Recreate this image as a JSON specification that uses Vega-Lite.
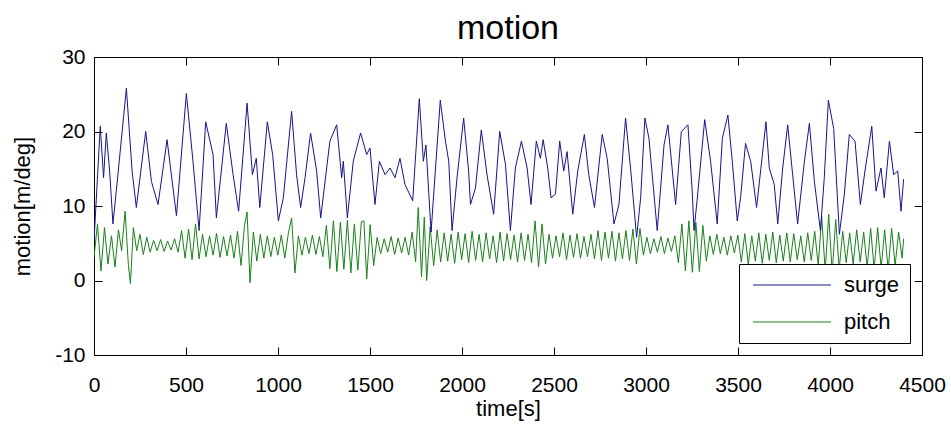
{
  "$schema": "https://vega.github.io/schema/vega-lite/v6.json",
  "width": 828,
  "height": 298,
  "autosize": {"type": "none"},
  "padding": {"left": 94, "top": 57, "right": 29, "bottom": 69},
  "background": "white",
  "title": {"text": "motion", "font": "Liberation Sans", "fontSize": 34, "fontWeight": "normal", "color": "black", "anchor": "middle", "offset": 0},
  "config": {
    "locale": {
      "number": {"decimal": ".", "thousands": "", "grouping": [3], "currency": ["", ""], "minus": "-"}
    },
    "view": {"stroke": "black", "strokeWidth": 1},
    "axis": {
      "grid": false,
      "domainColor": "black",
      "domainWidth": 1,
      "tickColor": "black",
      "tickWidth": 1,
      "tickSize": -8,
      "labelColor": "black",
      "labelFont": "Liberation Sans",
      "labelFontSize": 21,
      "labelFlush": false,
      "labelOverlap": false,
      "titleColor": "black",
      "titleFont": "Liberation Sans",
      "titleFontSize": 22,
      "titleFontWeight": "normal"
    },
    "legend": {
      "orient": "bottom-right",
      "offset": 12,
      "padding": 10,
      "strokeColor": "black",
      "fillColor": "white",
      "symbolType": "M-3.9,0H3.9",
      "symbolSize": 400,
      "symbolStrokeWidth": 1,
      "symbolOffset": 32,
      "labelFont": "Liberation Sans",
      "labelFontSize": 22,
      "labelColor": "black",
      "labelOffset": 41,
      "rowPadding": 15
    }
  },
  "datasets": {
    "surge": [
      {"t":0,"v":5.3},{"t":34,"v":20.7},{"t":52,"v":13.8},{"t":67,"v":19.8},{"t":85,"v":14.7},{"t":103,"v":7.6},
      {"t":130,"v":14.2},{"t":176,"v":25.8},{"t":207,"v":14.7},{"t":230,"v":9.8},{"t":281,"v":20.0},{"t":312,"v":13.3},
      {"t":348,"v":10.2},{"t":397,"v":18.9},{"t":448,"v":8.7},{"t":502,"v":25.1},{"t":538,"v":16.0},{"t":571,"v":6.7},
      {"t":607,"v":21.3},{"t":647,"v":16.9},{"t":665,"v":8.4},{"t":719,"v":21.1},{"t":756,"v":14.2},{"t":786,"v":9.3},
      {"t":832,"v":23.8},{"t":861,"v":14.2},{"t":882,"v":16.4},{"t":901,"v":9.8},{"t":942,"v":21.3},{"t":971,"v":16.9},
      {"t":1002,"v":8.0},{"t":1029,"v":11.1},{"t":1074,"v":22.7},{"t":1101,"v":14.2},{"t":1123,"v":9.8},{"t":1147,"v":13.8},
      {"t":1177,"v":19.8},{"t":1210,"v":14.7},{"t":1232,"v":8.4},{"t":1282,"v":18.7},{"t":1319,"v":20.9},{"t":1346,"v":13.8},
      {"t":1355,"v":16.0},{"t":1377,"v":8.4},{"t":1409,"v":16.0},{"t":1449,"v":19.8},{"t":1482,"v":16.9},{"t":1500,"v":17.8},
      {"t":1527,"v":10.2},{"t":1551,"v":16.0},{"t":1582,"v":14.2},{"t":1609,"v":15.1},{"t":1636,"v":13.8},{"t":1663,"v":16.4},
      {"t":1690,"v":12.9},{"t":1732,"v":10.7},{"t":1768,"v":24.4},{"t":1790,"v":16.0},{"t":1804,"v":18.2},{"t":1832,"v":6.5},
      {"t":1855,"v":14.7},{"t":1882,"v":24.2},{"t":1910,"v":18.7},{"t":1928,"v":16.0},{"t":1946,"v":6.7},{"t":1973,"v":13.8},
      {"t":2009,"v":21.8},{"t":2036,"v":14.7},{"t":2046,"v":10.2},{"t":2073,"v":12.4},{"t":2105,"v":20.2},{"t":2136,"v":14.2},
      {"t":2172,"v":8.9},{"t":2205,"v":20.0},{"t":2236,"v":15.6},{"t":2263,"v":6.7},{"t":2290,"v":15.1},{"t":2323,"v":18.7},
      {"t":2354,"v":15.1},{"t":2375,"v":10.2},{"t":2404,"v":18.7},{"t":2426,"v":16.4},{"t":2441,"v":18.9},{"t":2466,"v":15.1},
      {"t":2484,"v":11.1},{"t":2508,"v":11.6},{"t":2531,"v":18.7},{"t":2553,"v":14.7},{"t":2571,"v":17.3},{"t":2602,"v":8.9},
      {"t":2629,"v":14.7},{"t":2665,"v":19.6},{"t":2689,"v":14.2},{"t":2720,"v":9.8},{"t":2762,"v":19.6},{"t":2789,"v":16.4},
      {"t":2826,"v":7.6},{"t":2853,"v":10.2},{"t":2889,"v":21.8},{"t":2916,"v":15.1},{"t":2949,"v":5.8},{"t":2971,"v":11.1},
      {"t":2994,"v":21.8},{"t":3016,"v":19.1},{"t":3061,"v":6.7},{"t":3098,"v":18.2},{"t":3119,"v":20.9},{"t":3161,"v":10.2},
      {"t":3192,"v":20.0},{"t":3228,"v":20.9},{"t":3252,"v":11.6},{"t":3261,"v":6.7},{"t":3279,"v":11.1},{"t":3319,"v":21.6},
      {"t":3351,"v":16.0},{"t":3387,"v":7.6},{"t":3415,"v":19.1},{"t":3445,"v":22.2},{"t":3469,"v":16.0},{"t":3496,"v":8.0},
      {"t":3514,"v":11.1},{"t":3541,"v":18.4},{"t":3569,"v":16.0},{"t":3601,"v":9.8},{"t":3652,"v":21.3},{"t":3670,"v":15.1},
      {"t":3697,"v":12.9},{"t":3716,"v":7.6},{"t":3743,"v":15.1},{"t":3770,"v":20.9},{"t":3797,"v":14.2},{"t":3824,"v":7.6},
      {"t":3861,"v":16.0},{"t":3888,"v":21.1},{"t":3915,"v":13.3},{"t":3948,"v":6.7},{"t":3969,"v":13.8},{"t":3991,"v":24.2},
      {"t":4020,"v":20.4},{"t":4051,"v":6.2},{"t":4078,"v":11.6},{"t":4105,"v":19.6},{"t":4136,"v":18.7},{"t":4165,"v":10.2},
      {"t":4190,"v":14.7},{"t":4227,"v":20.7},{"t":4250,"v":12.0},{"t":4277,"v":15.1},{"t":4295,"v":11.1},{"t":4323,"v":18.7},
      {"t":4346,"v":14.2},{"t":4368,"v":14.7},{"t":4386,"v":9.3},{"t":4400,"v":13.6}
    ],
    "pitch": [
      {"t":0,"v":3.1},{"t":19,"v":7.6},{"t":38,"v":1.3},{"t":57,"v":7.1},{"t":76,"v":2.2},{"t":95,"v":6.0},
      {"t":114,"v":1.8},{"t":133,"v":6.8},{"t":150,"v":4.0},{"t":169,"v":9.3},{"t":187,"v":2.0},{"t":198,"v":-0.4},
      {"t":214,"v":7.1},{"t":232,"v":4.0},{"t":250,"v":6.2},{"t":268,"v":3.5},{"t":287,"v":5.8},{"t":305,"v":3.8},
      {"t":324,"v":5.4},{"t":343,"v":4.0},{"t":362,"v":5.5},{"t":381,"v":3.9},{"t":400,"v":5.3},{"t":419,"v":4.1},
      {"t":438,"v":5.6},{"t":457,"v":3.8},{"t":476,"v":6.7},{"t":495,"v":3.0},{"t":514,"v":6.9},{"t":533,"v":2.8},
      {"t":552,"v":7.6},{"t":571,"v":2.9},{"t":590,"v":6.2},{"t":609,"v":3.2},{"t":628,"v":6.0},{"t":647,"v":3.4},
      {"t":666,"v":6.3},{"t":685,"v":3.1},{"t":704,"v":5.9},{"t":723,"v":3.3},{"t":742,"v":6.1},{"t":761,"v":3.0},
      {"t":780,"v":6.6},{"t":799,"v":2.0},{"t":818,"v":7.4},{"t":832,"v":9.2},{"t":848,"v":-0.3},{"t":866,"v":6.5},
      {"t":885,"v":2.6},{"t":904,"v":6.2},{"t":923,"v":3.0},{"t":942,"v":6.0},{"t":961,"v":3.2},{"t":980,"v":5.8},
      {"t":999,"v":3.4},{"t":1018,"v":6.1},{"t":1037,"v":3.0},{"t":1056,"v":6.3},{"t":1074,"v":8.4},{"t":1092,"v":1.0},
      {"t":1111,"v":6.0},{"t":1130,"v":3.4},{"t":1149,"v":5.8},{"t":1168,"v":3.6},{"t":1187,"v":6.1},{"t":1206,"v":3.5},
      {"t":1225,"v":5.9},{"t":1244,"v":3.2},{"t":1263,"v":7.4},{"t":1282,"v":1.6},{"t":1301,"v":8.0},{"t":1320,"v":1.2},
      {"t":1339,"v":7.8},{"t":1358,"v":1.5},{"t":1377,"v":8.1},{"t":1396,"v":1.0},{"t":1415,"v":7.6},{"t":1434,"v":1.4},
      {"t":1453,"v":7.9},{"t":1467,"v":8.0},{"t":1482,"v":0.2},{"t":1501,"v":7.5},{"t":1520,"v":2.0},{"t":1539,"v":5.8},
      {"t":1558,"v":3.6},{"t":1577,"v":5.6},{"t":1596,"v":3.8},{"t":1615,"v":5.9},{"t":1634,"v":3.5},{"t":1653,"v":5.7},
      {"t":1672,"v":3.7},{"t":1691,"v":5.8},{"t":1710,"v":3.4},{"t":1729,"v":6.5},{"t":1748,"v":2.5},{"t":1762,"v":9.8},
      {"t":1780,"v":0.5},{"t":1795,"v":8.5},{"t":1808,"v":0.0},{"t":1827,"v":7.2},{"t":1846,"v":2.0},{"t":1865,"v":6.8},
      {"t":1884,"v":2.5},{"t":1903,"v":6.4},{"t":1922,"v":2.6},{"t":1941,"v":6.2},{"t":1960,"v":2.3},{"t":1979,"v":6.5},
      {"t":1998,"v":2.8},{"t":2017,"v":6.3},{"t":2036,"v":2.4},{"t":2055,"v":6.6},{"t":2074,"v":2.7},{"t":2093,"v":6.2},
      {"t":2112,"v":2.5},{"t":2131,"v":6.4},{"t":2150,"v":2.9},{"t":2169,"v":6.0},{"t":2188,"v":2.4},{"t":2207,"v":6.5},
      {"t":2226,"v":2.6},{"t":2245,"v":6.3},{"t":2264,"v":2.8},{"t":2283,"v":6.1},{"t":2302,"v":2.5},{"t":2321,"v":6.4},
      {"t":2340,"v":2.7},{"t":2359,"v":6.2},{"t":2378,"v":2.4},{"t":2397,"v":8.0},{"t":2416,"v":1.8},{"t":2435,"v":7.6},
      {"t":2454,"v":2.2},{"t":2473,"v":6.2},{"t":2492,"v":3.0},{"t":2511,"v":6.0},{"t":2530,"v":3.2},{"t":2549,"v":6.4},
      {"t":2568,"v":2.8},{"t":2587,"v":6.1},{"t":2606,"v":3.1},{"t":2625,"v":6.3},{"t":2644,"v":3.0},{"t":2663,"v":5.9},
      {"t":2682,"v":3.2},{"t":2701,"v":6.2},{"t":2720,"v":2.9},{"t":2739,"v":6.7},{"t":2758,"v":2.7},{"t":2777,"v":6.5},
      {"t":2796,"v":3.0},{"t":2815,"v":6.6},{"t":2834,"v":2.6},{"t":2853,"v":6.4},{"t":2872,"v":2.9},{"t":2891,"v":6.7},
      {"t":2910,"v":2.7},{"t":2929,"v":6.9},{"t":2948,"v":2.2},{"t":2967,"v":7.0},{"t":2986,"v":3.4},{"t":3005,"v":5.8},
      {"t":3024,"v":3.6},{"t":3043,"v":5.6},{"t":3062,"v":3.8},{"t":3081,"v":5.9},{"t":3100,"v":3.6},{"t":3119,"v":5.7},
      {"t":3138,"v":3.9},{"t":3157,"v":6.0},{"t":3176,"v":2.4},{"t":3195,"v":7.6},{"t":3214,"v":1.3},{"t":3233,"v":8.0},
      {"t":3252,"v":1.1},{"t":3271,"v":7.8},{"t":3290,"v":1.2},{"t":3309,"v":7.4},{"t":3328,"v":2.6},{"t":3347,"v":6.0},
      {"t":3366,"v":3.5},{"t":3385,"v":6.2},{"t":3404,"v":3.6},{"t":3423,"v":5.8},{"t":3442,"v":3.4},{"t":3461,"v":6.0},
      {"t":3480,"v":3.7},{"t":3499,"v":6.1},{"t":3518,"v":2.5},{"t":3537,"v":6.3},{"t":3556,"v":2.2},{"t":3575,"v":6.0},
      {"t":3594,"v":2.6},{"t":3613,"v":6.4},{"t":3632,"v":2.3},{"t":3651,"v":6.2},{"t":3670,"v":2.7},{"t":3689,"v":6.5},
      {"t":3708,"v":2.4},{"t":3727,"v":6.1},{"t":3746,"v":2.6},{"t":3765,"v":6.4},{"t":3784,"v":2.5},{"t":3803,"v":6.3},
      {"t":3822,"v":2.8},{"t":3841,"v":6.0},{"t":3860,"v":2.5},{"t":3879,"v":6.4},{"t":3898,"v":2.7},{"t":3917,"v":6.6},
      {"t":3936,"v":2.0},{"t":3955,"v":8.6},{"t":3974,"v":1.2},{"t":3993,"v":8.9},{"t":4012,"v":1.0},{"t":4031,"v":8.2},
      {"t":4050,"v":1.5},{"t":4069,"v":6.6},{"t":4088,"v":2.4},{"t":4107,"v":6.4},{"t":4126,"v":2.2},{"t":4145,"v":6.8},
      {"t":4164,"v":2.5},{"t":4183,"v":6.5},{"t":4202,"v":1.8},{"t":4221,"v":7.0},{"t":4240,"v":1.5},{"t":4259,"v":7.1},
      {"t":4278,"v":1.6},{"t":4297,"v":6.8},{"t":4316,"v":1.4},{"t":4335,"v":7.0},{"t":4354,"v":2.0},{"t":4373,"v":6.5},
      {"t":4392,"v":3.0},{"t":4400,"v":5.6}
    ]
  },
  "layer": [
    {
      "data": {"name": "pitch"},
      "mark": {"type": "line", "strokeWidth": 1, "clip": true},
      "encoding": {
        "x": {"field": "t", "type": "quantitative", "scale": {"domain": [0, 4500], "nice": false, "zero": false},
              "axis": {"orient": "bottom", "values": [0, 500, 1000, 1500, 2000, 2500, 3000, 3500, 4000, 4500], "format": "d", "labelPadding": 27, "title": "time[s]", "titlePadding": 3}},
        "y": {"field": "v", "type": "quantitative", "scale": {"domain": [-10, 30], "nice": false, "zero": false},
              "axis": {"orient": "left", "values": [-10, 0, 10, 20, 30], "format": "d", "labelPadding": 17, "title": "motion[m/deg]", "titlePadding": 20}},
        "color": {"datum": "pitch", "type": "nominal",
                  "scale": {"domain": ["surge", "pitch"], "range": ["#14148c", "#1a801a"]},
                  "legend": {"title": null}}
      }
    },
    {
      "data": {"name": "surge"},
      "mark": {"type": "line", "strokeWidth": 1, "clip": true},
      "encoding": {
        "x": {"field": "t", "type": "quantitative", "axis": null},
        "y": {"field": "v", "type": "quantitative", "axis": null},
        "color": {"datum": "surge", "type": "nominal"}
      }
    },
    {
      "data": {"name": "surge"},
      "mark": {"type": "line", "strokeOpacity": 0},
      "encoding": {
        "x": {"field": "t", "type": "quantitative",
              "axis": {"orient": "top", "values": [0, 500, 1000, 1500, 2000, 2500, 3000, 3500, 4000, 4500], "labels": false, "title": null}},
        "y": {"field": "v", "type": "quantitative",
              "axis": {"orient": "right", "values": [-10, 0, 10, 20, 30], "labels": false, "title": null}}
      }
    }
  ],
  "resolve": {"axis": {"x": "independent", "y": "independent"}}
}
